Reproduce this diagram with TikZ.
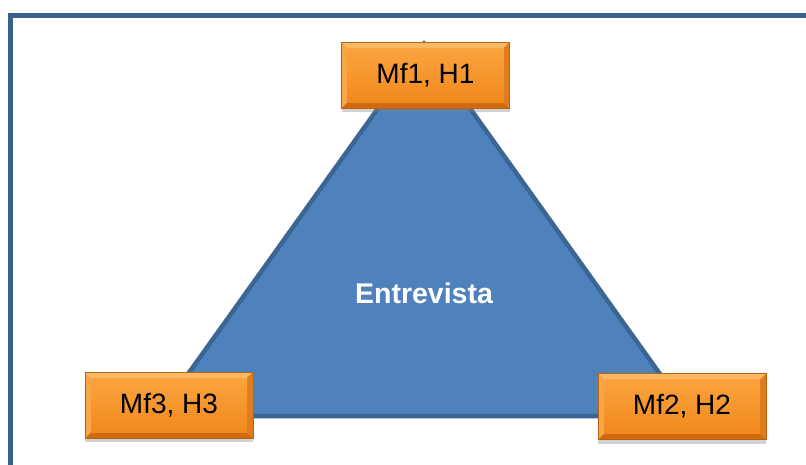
\documentclass[tikz,border=0pt]{standalone}
\usepackage{fontspec}
\setmainfont{Liberation Sans}
\usetikzlibrary{shadows}
\definecolor{frameblue}{HTML}{3A5F8C}
\definecolor{trifill}{HTML}{4F81BD}
\definecolor{triedge}{HTML}{3C6594}
\definecolor{orTop}{HTML}{FBA33E}
\definecolor{orBot}{HTML}{F08A1E}
\definecolor{orEdge}{HTML}{B8620F}
\definecolor{bevTop}{HTML}{FDB863}
\definecolor{bevBot}{HTML}{D06B12}
\definecolor{bevLeft}{HTML}{FAA548}
\definecolor{bevRight}{HTML}{E07C1C}
\tikzset{
  obox/.style={rectangle, minimum width=168pt, minimum height=66pt, inner sep=0pt,
    draw=orEdge, line width=0.6pt,
    font=\fontsize{28}{30}\selectfont, text=black,
    drop shadow={shadow xshift=0pt, shadow yshift=-4pt, opacity=0.35},
    path picture={
      \coordinate (NW) at (path picture bounding box.north west);
      \coordinate (NE) at (path picture bounding box.north east);
      \coordinate (SW) at (path picture bounding box.south west);
      \coordinate (SE) at (path picture bounding box.south east);
      \coordinate (nw) at ([xshift=6pt,yshift=-6pt]path picture bounding box.north west);
      \coordinate (ne) at ([xshift=-6pt,yshift=-6pt]path picture bounding box.north east);
      \coordinate (sw) at ([xshift=6pt,yshift=6pt]path picture bounding box.south west);
      \coordinate (se) at ([xshift=-6pt,yshift=6pt]path picture bounding box.south east);
      \fill[bevTop] (NW) -- (NE) -- (ne) -- (nw) -- cycle;
      \fill[bevBot] (SW) -- (SE) -- (se) -- (sw) -- cycle;
      \fill[bevLeft] (NW) -- (nw) -- (sw) -- (SW) -- cycle;
      \fill[bevRight] (NE) -- (ne) -- (se) -- (SE) -- cycle;
      \shade[top color=orTop, bottom color=orBot] (nw) rectangle (se);
    }},
  frameline/.style={draw=frameblue, line width=5pt},
  tri/.style={fill=trifill, draw=triedge, line width=4.5pt, line join=miter},
  centertext/.style={font=\fontsize{28.5}{30}\selectfont\bfseries, text=white}
}
\begin{document}
\begin{tikzpicture}[x=1pt, y=-1pt]
  \useasboundingbox (0,0) rectangle (806,464);
  \fill[white] (0,0) rectangle (806,464);
  \begin{scope}
    \clip (0,0) rectangle (806,464);
    \draw[frameline] (10.5,15.5) rectangle (830,490);
  \end{scope}
  \coordinate (apex) at (424,44);
  \coordinate (bl) at (158,416);
  \coordinate (br) at (690,416);
  \draw[tri] (apex) -- (br) -- (bl) -- cycle;
  \node[centertext] (ctr) at (424,293) {Entrevista};
  \node[obox] (m1) at (425.5,75) {Mf1, H1};
  \node[obox] (m2) at (682,406.5) {Mf2, H2};
  \node[obox] (m3) at (169,405) {Mf3, H3};
\end{tikzpicture}
\end{document}
